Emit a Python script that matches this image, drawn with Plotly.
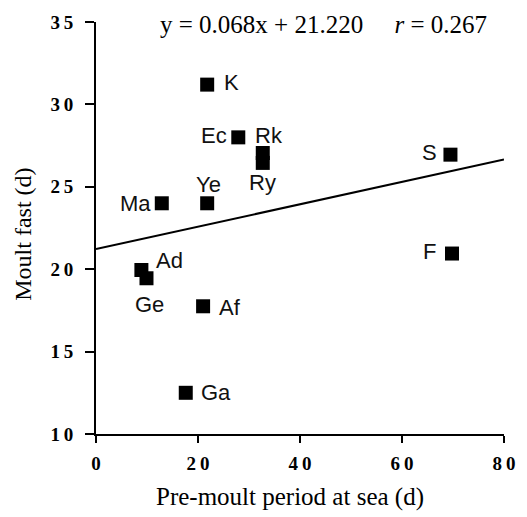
import plotly.graph_objects as go

labels = ["K", "Ec", "Rk", "Ry", "S", "Ye", "Ma", "Ad", "Ge", "Af", "F", "Ga"]
premoult = [21.8, 27.9, 32.7, 32.7, 69.5, 21.8, 12.9, 8.9, 9.9, 21.0, 69.8, 17.6]
moult_fast = [31.2, 28.0, 27.05, 26.45, 26.95, 24.0, 24.0, 19.95, 19.45, 17.75, 20.95, 12.5]

# label offsets from marker centre, in pixels (style only)
label_dx = [24, -24, 6, 0, -21, 1, -26, 28, 3, 27, -22, 30]
label_dy = [2, 2, 18, -20, 2, 19, 0, 10, -26, -1, 2, 0]

slope = 0.068
intercept = 21.220
r_value = 0.267
x_range = [0, 80]
y_range = [10, 35]
x_ticks = [0, 20, 40, 60, 80]
y_ticks = [10, 15, 20, 25, 30, 35]
x_title = "Pre-moult period at sea (d)"
y_title = "Moult fast (d)"

serif = "Liberation Serif, Times New Roman"
fig = go.Figure()
fig.add_trace(go.Scatter(
    x=x_range, y=[slope * v + intercept for v in x_range],
    mode="lines", line=dict(color="black", width=2), hoverinfo="skip", showlegend=False))
fig.add_trace(go.Scatter(
    x=premoult, y=moult_fast, mode="markers",
    marker=dict(symbol="square", size=14, color="black"),
    showlegend=False))

annotations = [
    dict(xref="paper", yref="paper", x=0.557, y=1.0, xanchor="center", yanchor="middle",
         yshift=-2,
         text=f"y = {slope:.3f}x + {intercept:.3f}&nbsp;&nbsp;&nbsp;&nbsp;&nbsp;<i>r</i> = {r_value:.3f}",
         showarrow=False, font=dict(family=serif, size=25, color="black")),
    dict(xref="paper", yref="paper", x=0.475, y=-0.154, xanchor="center", yanchor="middle",
         text=x_title, showarrow=False, font=dict(family=serif, size=25, color="black")),
    dict(xref="paper", yref="paper", x=-0.179, y=0.486, xanchor="center", yanchor="middle",
         text=y_title, textangle=-90, showarrow=False,
         font=dict(family=serif, size=24, color="black")),
]
for lab, xv, yv, dx, dy in zip(labels, premoult, moult_fast, label_dx, label_dy):
    annotations.append(dict(
        xref="x", yref="y", x=xv, y=yv, xshift=dx, yshift=dy, text=lab,
        xanchor="center", yanchor="middle", showarrow=False,
        font=dict(family="Liberation Sans, Arial", size=22, color="#111")))

tick_font = dict(family=serif, size=19, color="black")
fig.update_layout(
    width=527, height=517,
    margin=dict(l=96, r=15, t=17, b=83),
    paper_bgcolor="white", plot_bgcolor="white",
    xaxis=dict(range=x_range, tickvals=x_ticks,
               ticktext=["<b>" + "\u2009".join(str(t)) + "</b>" for t in x_ticks],
               showgrid=False, zeroline=False, showline=True, linecolor="black", linewidth=2,
               ticks="outside", ticklen=7, tickwidth=2, tickcolor="black",
               tickfont=tick_font, ticklabelstandoff=4),
    yaxis=dict(range=y_range, tickvals=y_ticks,
               ticktext=["<b>" + "\u2009".join(str(t)) + "</b>" for t in y_ticks],
               showgrid=False, zeroline=False, showline=True, linecolor="black", linewidth=2,
               ticks="outside", ticklen=9, tickwidth=2, tickcolor="black",
               tickfont=tick_font, ticklabelstandoff=8),
    annotations=annotations,
)
fig.write_html("out.html")
